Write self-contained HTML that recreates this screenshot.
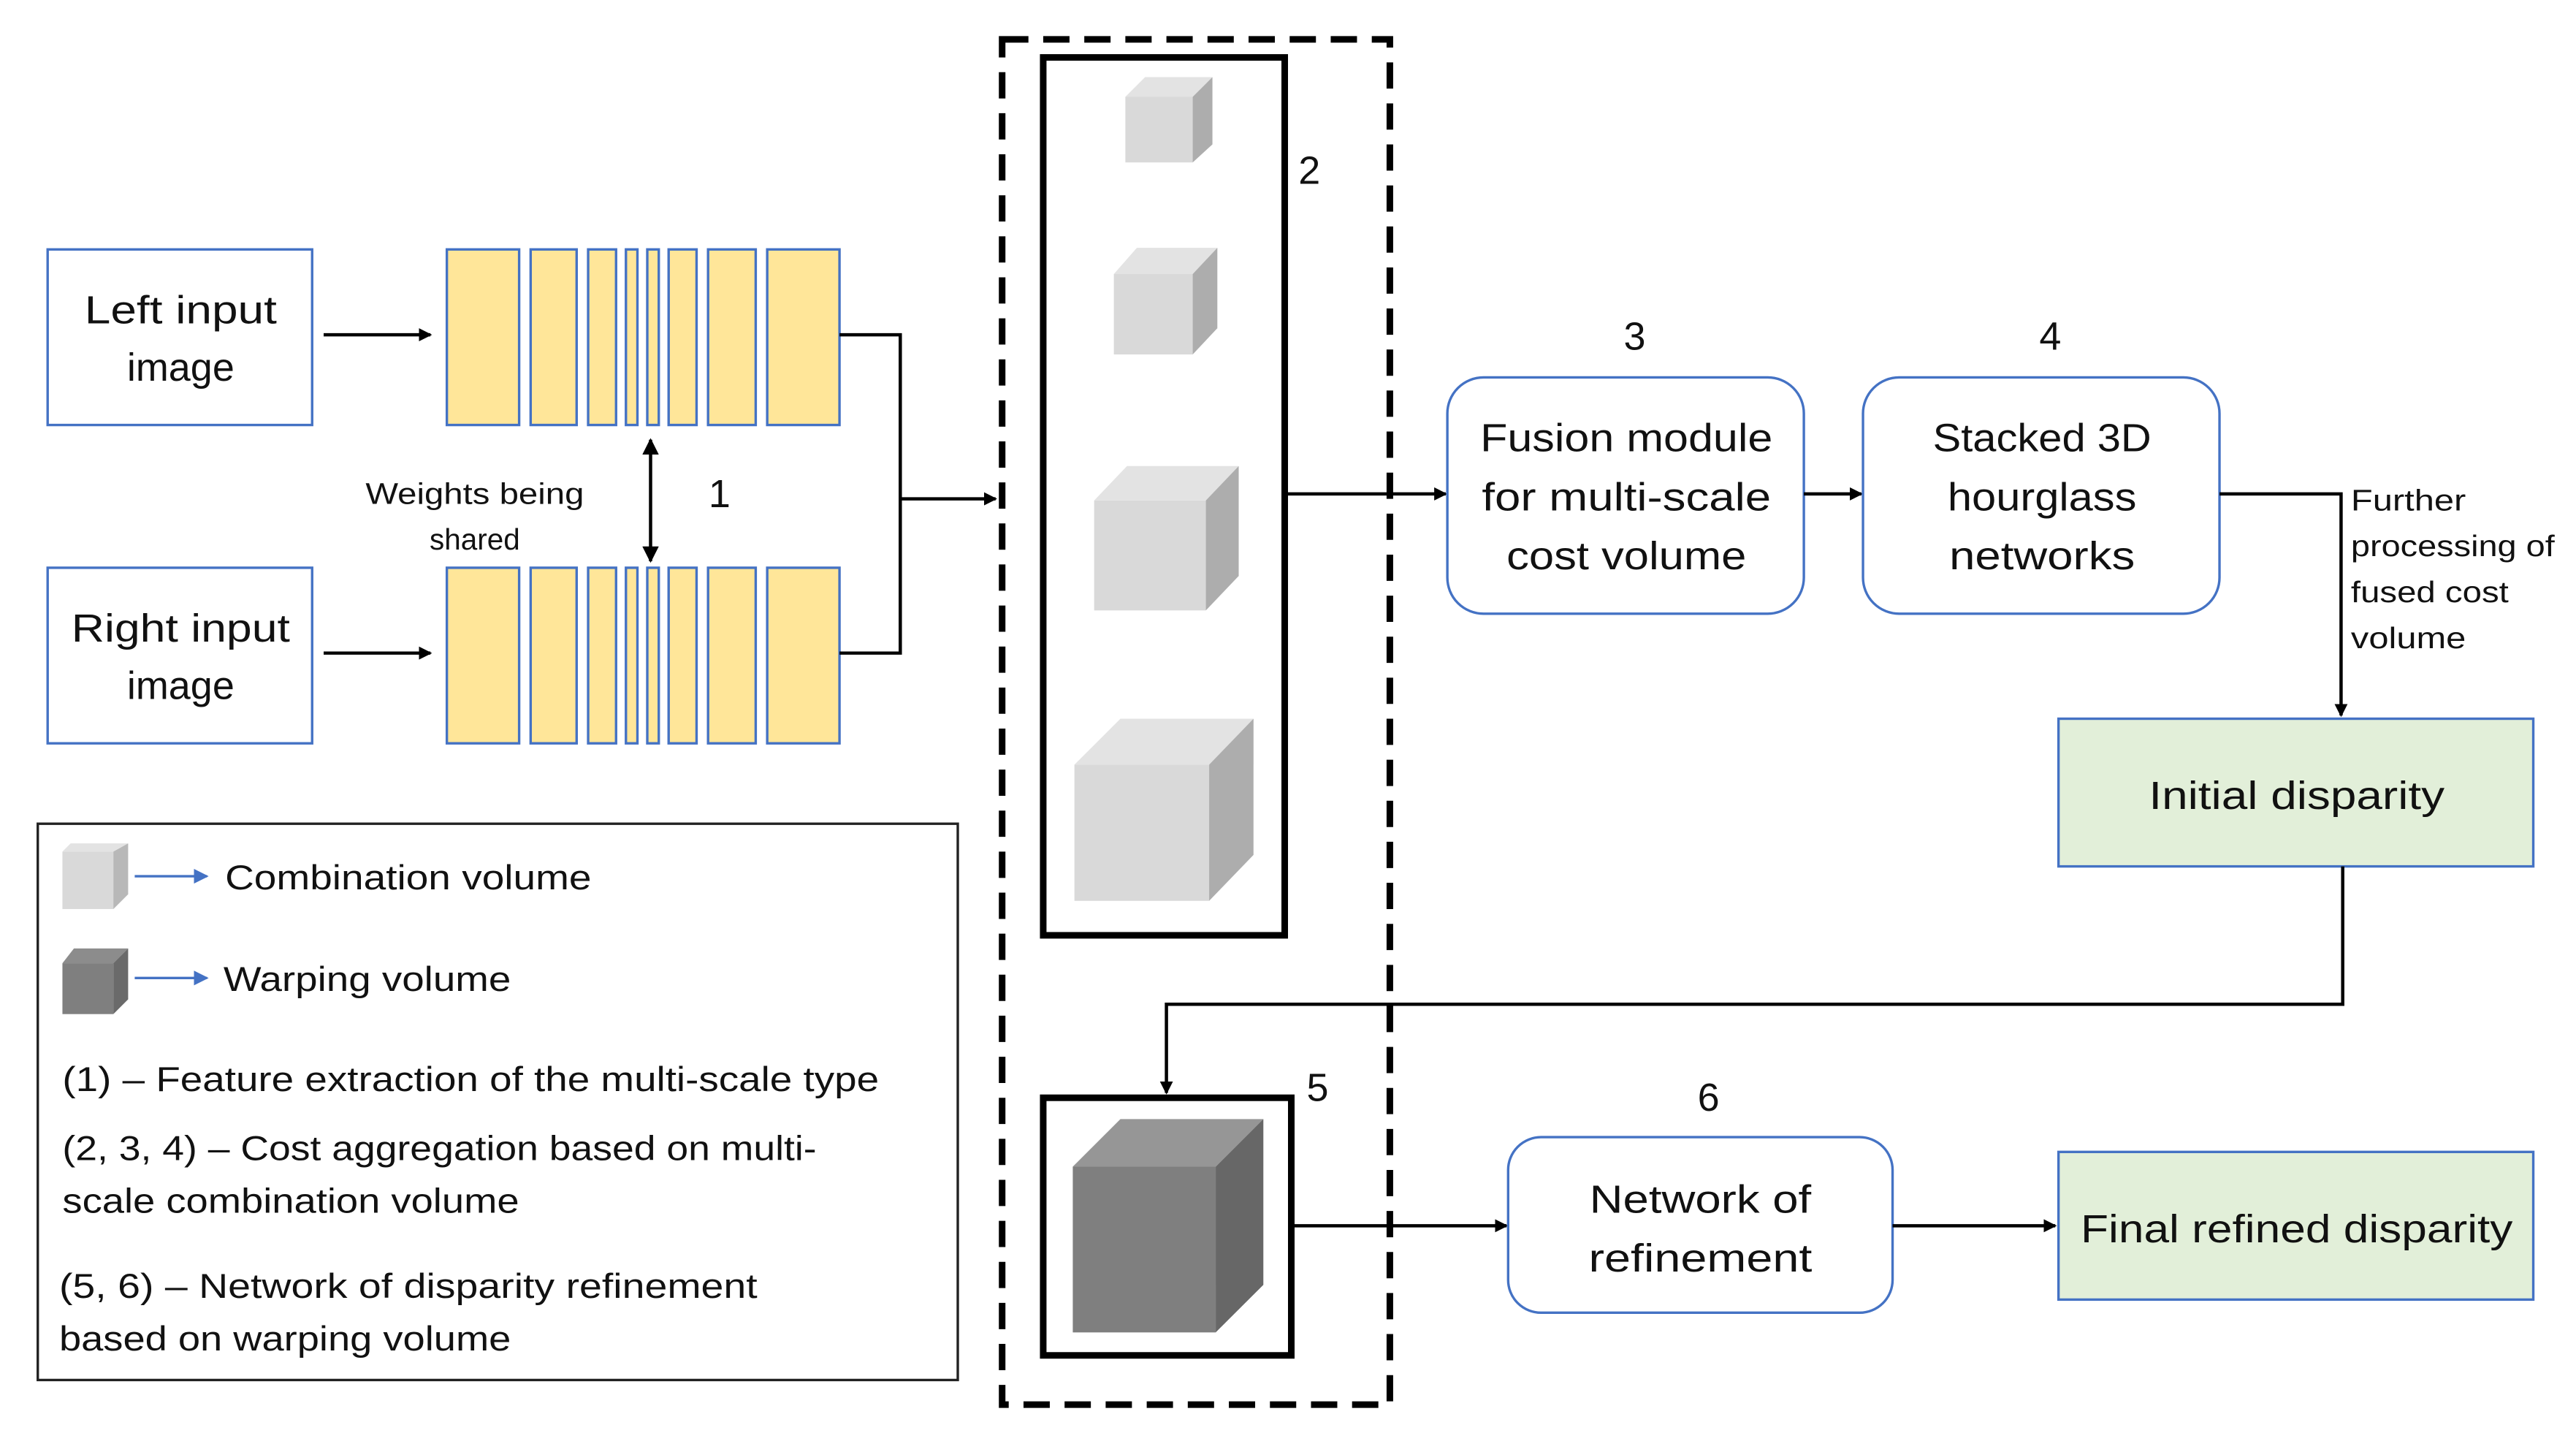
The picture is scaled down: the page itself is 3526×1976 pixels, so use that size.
<!DOCTYPE html>
<html><head><meta charset="utf-8"><style>
html,body{margin:0;padding:0;background:#fff;}
svg{display:block;}
text{font-family:"Liberation Sans",sans-serif;fill:#111;}
</style></head><body>
<svg width="3526" height="1976" viewBox="0 0 1568 880" preserveAspectRatio="none" xmlns="http://www.w3.org/2000/svg">
<defs>
<marker id="ah" markerWidth="8" markerHeight="8" refX="7" refY="4" orient="auto" markerUnits="userSpaceOnUse"><path d="M0,0 L8,4 L0,8 z" fill="#000"/></marker>
<marker id="ahb" markerWidth="9" markerHeight="9" refX="8" refY="4.5" orient="auto" markerUnits="userSpaceOnUse"><path d="M0,0 L9,4.5 L0,9 z" fill="#4472c4"/></marker>
<marker id="ahs" markerWidth="10" markerHeight="10" refX="9" refY="5" orient="auto-start-reverse" markerUnits="userSpaceOnUse"><path d="M0,0 L10,5 L0,10 z" fill="#000"/></marker>
</defs>

<!-- input boxes -->
<rect x="29" y="152" width="161" height="107" fill="#fff" stroke="#4472c4" stroke-width="1.5"/>
<text x="110" y="197" font-size="24" text-anchor="middle" textLength="117" lengthAdjust="spacingAndGlyphs">Left input</text>
<text x="110" y="232" font-size="24" text-anchor="middle">image</text>
<rect x="29" y="346" width="161" height="107" fill="#fff" stroke="#4472c4" stroke-width="1.5"/>
<text x="110" y="391" font-size="24" text-anchor="middle" textLength="133" lengthAdjust="spacingAndGlyphs">Right input</text>
<text x="110" y="426" font-size="24" text-anchor="middle">image</text>

<line x1="197" y1="204" x2="262" y2="204" stroke="#000" stroke-width="2" marker-end="url(#ah)"/>
<line x1="197" y1="398" x2="262" y2="398" stroke="#000" stroke-width="2" marker-end="url(#ah)"/>

<!-- yellow bars -->
<g fill="#ffe699" stroke="#4472c4" stroke-width="1.5">
<rect x="272" y="152" width="44" height="107"/><rect x="323" y="152" width="28" height="107"/><rect x="358" y="152" width="17" height="107"/><rect x="381" y="152" width="7" height="107"/><rect x="394" y="152" width="7" height="107"/><rect x="407" y="152" width="17" height="107"/><rect x="431" y="152" width="29" height="107"/><rect x="467" y="152" width="44" height="107"/>
<rect x="272" y="346" width="44" height="107"/><rect x="323" y="346" width="28" height="107"/><rect x="358" y="346" width="17" height="107"/><rect x="381" y="346" width="7" height="107"/><rect x="394" y="346" width="7" height="107"/><rect x="407" y="346" width="17" height="107"/><rect x="431" y="346" width="29" height="107"/><rect x="467" y="346" width="44" height="107"/>
</g>
<line x1="396" y1="268" x2="396" y2="342" stroke="#000" stroke-width="2" marker-start="url(#ahs)" marker-end="url(#ahs)"/>
<text x="289" y="307" font-size="18" text-anchor="middle" textLength="133" lengthAdjust="spacingAndGlyphs">Weights being</text>
<text x="289" y="335" font-size="18" text-anchor="middle">shared</text>
<text x="438" y="309" font-size="24" text-anchor="middle">1</text>

<polyline points="511,204 548,204 548,398 511,398" fill="none" stroke="#000" stroke-width="2"/>
<line x1="548" y1="304" x2="606" y2="304" stroke="#000" stroke-width="2" marker-end="url(#ah)"/>

<!-- dashed box -->
<rect x="610" y="24" width="236" height="832" fill="none" stroke="#000" stroke-width="4" stroke-dasharray="16,9"/>

<!-- box 2 -->
<rect x="635" y="35" width="147" height="535" fill="none" stroke="#000" stroke-width="4"/>
<text x="797" y="112" font-size="24" text-anchor="middle">2</text>
<g>
<rect x="685" y="59" width="41" height="40" fill="#d9d9d9"/><polygon points="685,59 697,47 738,47 726,59" fill="#e3e3e3"/><polygon points="726,59 738,47 738,88 726,99" fill="#adadad"/>
<rect x="678" y="167" width="48" height="49" fill="#d9d9d9"/><polygon points="678,167 692,151 741,151 726,167" fill="#e3e3e3"/><polygon points="726,167 741,151 741,200 726,216" fill="#adadad"/>
<rect x="666" y="305" width="68" height="67" fill="#d9d9d9"/><polygon points="666,305 686,284 754,284 734,305" fill="#e3e3e3"/><polygon points="734,305 754,284 754,351 734,372" fill="#adadad"/>
<rect x="654" y="466" width="82" height="83" fill="#d9d9d9"/><polygon points="654,466 682,438 763,438 736,466" fill="#e3e3e3"/><polygon points="736,466 763,438 763,521 736,549" fill="#adadad"/>
</g>

<line x1="782" y1="301" x2="880" y2="301" stroke="#000" stroke-width="2" marker-end="url(#ah)"/>

<!-- box 3 / 4 -->
<text x="995" y="213" font-size="24" text-anchor="middle">3</text>
<rect x="881" y="230" width="217" height="144" rx="22" fill="#fff" stroke="#4472c4" stroke-width="1.5"/>
<text x="990" y="275" font-size="24" text-anchor="middle" textLength="178" lengthAdjust="spacingAndGlyphs">Fusion module</text>
<text x="990" y="311" font-size="24" text-anchor="middle" textLength="176" lengthAdjust="spacingAndGlyphs">for multi-scale</text>
<text x="990" y="347" font-size="24" text-anchor="middle" textLength="146" lengthAdjust="spacingAndGlyphs">cost volume</text>
<line x1="1098" y1="301" x2="1133" y2="301" stroke="#000" stroke-width="2" marker-end="url(#ah)"/>
<text x="1248" y="213" font-size="24" text-anchor="middle">4</text>
<rect x="1134" y="230" width="217" height="144" rx="22" fill="#fff" stroke="#4472c4" stroke-width="1.5"/>
<text x="1243" y="275" font-size="24" text-anchor="middle" textLength="133" lengthAdjust="spacingAndGlyphs">Stacked 3D</text>
<text x="1243" y="311" font-size="24" text-anchor="middle" textLength="115" lengthAdjust="spacingAndGlyphs">hourglass</text>
<text x="1243" y="347" font-size="24" text-anchor="middle" textLength="113" lengthAdjust="spacingAndGlyphs">networks</text>

<polyline points="1351,301 1425,301 1425,436" fill="none" stroke="#000" stroke-width="2" marker-end="url(#ah)"/>
<g font-size="18">
<text x="1431" y="311" textLength="70" lengthAdjust="spacingAndGlyphs">Further</text>
<text x="1431" y="339" textLength="124" lengthAdjust="spacingAndGlyphs">processing of</text>
<text x="1431" y="367" textLength="96" lengthAdjust="spacingAndGlyphs">fused cost</text>
<text x="1431" y="395" textLength="70" lengthAdjust="spacingAndGlyphs">volume</text>
</g>

<rect x="1253" y="438" width="289" height="90" fill="#e2efd9" stroke="#4472c4" stroke-width="1.5"/>
<text x="1398" y="493" font-size="24" text-anchor="middle" textLength="180" lengthAdjust="spacingAndGlyphs">Initial disparity</text>

<polyline points="1426,528 1426,612 710,612 710,666" fill="none" stroke="#000" stroke-width="2" marker-end="url(#ah)"/>

<!-- box 5 -->
<rect x="635" y="669" width="151" height="157" fill="none" stroke="#000" stroke-width="4"/>
<text x="802" y="671" font-size="24" text-anchor="middle">5</text>
<rect x="653" y="711" width="87" height="101" fill="#7f7f7f"/>
<polygon points="653,711 682,682 769,682 740,711" fill="#969696"/>
<polygon points="740,711 769,682 769,783 740,812" fill="#676767"/>

<line x1="786" y1="747" x2="917" y2="747" stroke="#000" stroke-width="2" marker-end="url(#ah)"/>
<text x="1040" y="677" font-size="24" text-anchor="middle">6</text>
<rect x="918" y="693" width="234" height="107" rx="20" fill="#fff" stroke="#4472c4" stroke-width="1.5"/>
<text x="1035" y="739" font-size="24" text-anchor="middle" textLength="135" lengthAdjust="spacingAndGlyphs">Network of</text>
<text x="1035" y="775" font-size="24" text-anchor="middle" textLength="136" lengthAdjust="spacingAndGlyphs">refinement</text>
<line x1="1152" y1="747" x2="1251" y2="747" stroke="#000" stroke-width="2" marker-end="url(#ah)"/>
<rect x="1253" y="702" width="289" height="90" fill="#e2efd9" stroke="#4472c4" stroke-width="1.5"/>
<text x="1398" y="757" font-size="24" text-anchor="middle" textLength="263" lengthAdjust="spacingAndGlyphs">Final refined disparity</text>

<!-- legend -->
<rect x="23" y="502" width="560" height="339" fill="#fff" stroke="#222" stroke-width="1.5"/>
<rect x="38" y="519" width="31" height="35" fill="#d9d9d9"/><polygon points="38,519 43,514 78,514 69,519" fill="#e3e3e3"/><polygon points="69,519 78,514 78,545 69,554" fill="#b8b8b8"/>
<line x1="82" y1="534" x2="126" y2="534" stroke="#4472c4" stroke-width="1.5" marker-end="url(#ahb)"/>
<text x="137" y="542" font-size="21" textLength="223" lengthAdjust="spacingAndGlyphs">Combination volume</text>
<rect x="38" y="587" width="31" height="31" fill="#7f7f7f"/><polygon points="38,587 45,578 78,578 69,587" fill="#8c8c8c"/><polygon points="69,587 78,578 78,609 69,618" fill="#6a6a6a"/>
<line x1="82" y1="596" x2="126" y2="596" stroke="#4472c4" stroke-width="1.5" marker-end="url(#ahb)"/>
<text x="136" y="604" font-size="21" textLength="175" lengthAdjust="spacingAndGlyphs">Warping volume</text>
<g font-size="21">
<text x="38" y="665" textLength="497" lengthAdjust="spacingAndGlyphs">(1) – Feature extraction of the multi-scale type</text>
<text x="38" y="707" textLength="459" lengthAdjust="spacingAndGlyphs">(2, 3, 4) – Cost aggregation based on multi-</text>
<text x="38" y="739" textLength="278" lengthAdjust="spacingAndGlyphs">scale combination volume</text>
<text x="36" y="791" textLength="425" lengthAdjust="spacingAndGlyphs">(5, 6) – Network of disparity refinement</text>
<text x="36" y="823" textLength="275" lengthAdjust="spacingAndGlyphs">based on warping volume</text>
</g>
</svg>
</body></html>
